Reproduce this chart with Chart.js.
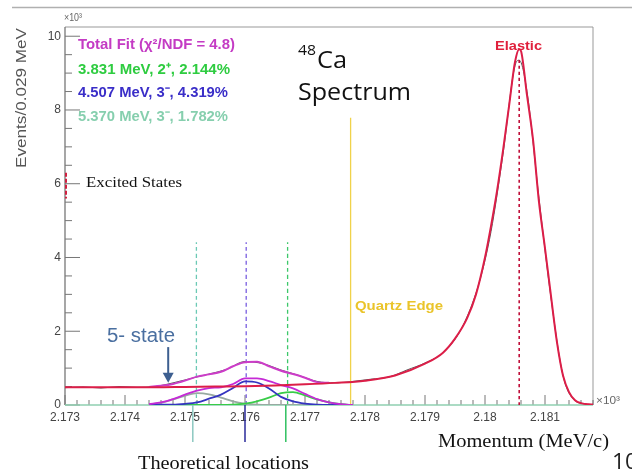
<!DOCTYPE html>
<html lang="en">
<head>
<meta charset="UTF-8">
<title>48Ca Spectrum</title>
<script src="https://cdn.jsdelivr.net/npm/chart.js@4.4.1/dist/chart.umd.min.js"></script>
<style>
  html, body { margin: 0; padding: 0; background: #fff; }
  #wrap { width: 632px; height: 474px; }
</style>
</head>
<body>
<div id="wrap"><canvas id="spectrum" width="632" height="474"></canvas></div>
<script>
// momentum in units of 10^3 MeV/c, events in units of 10^3
const xTicks = [2.173, 2.174, 2.175, 2.176, 2.177, 2.178, 2.179, 2.180, 2.181];
const yTicks = [0, 2, 4, 6, 8, 10];

// elastic peak + radiative tail fit (red)
const fitX = [2.173, 2.1735, 2.174, 2.1745, 2.175, 2.1755, 2.176, 2.1765, 2.177, 2.1775, 2.178, 2.1785, 2.179, 2.1793,
  2.1795, 2.1797, 2.17985, 2.180, 2.1801, 2.1802, 2.1803, 2.1804, 2.1805, 2.18057, 2.1806, 2.1807, 2.1808, 2.1809,
  2.181, 2.1811, 2.1812, 2.1813, 2.1814, 2.1815, 2.1816, 2.1818];
const fitY = [0.48, 0.48, 0.48, 0.48, 0.49, 0.5, 0.51, 0.53, 0.56, 0.6, 0.66, 0.8, 1.12, 1.42,
  1.8, 2.35, 3.0, 4.0, 4.85, 5.8, 6.9, 8.1, 9.3, 9.65, 9.6, 8.4, 7.2, 5.5,
  4.25, 2.95, 1.7, 0.8, 0.35, 0.13, 0.05, 0.01];

// total fit (magenta) in the excited-state region
const totalX = [2.1744, 2.1746, 2.1748, 2.175, 2.1752, 2.1754, 2.1756, 2.1758, 2.176, 2.1762, 2.1764, 2.1766,
  2.1768, 2.177, 2.1772, 2.1774];
const totalY = [0.49, 0.52, 0.57, 0.66, 0.77, 0.83, 0.9, 1.05, 1.16, 1.17, 1.05, 0.93,
  0.84, 0.74, 0.62, 0.6];

// excited states
const stateX = [2.1744, 2.1746, 2.1748, 2.175, 2.1752, 2.1754, 2.1756, 2.1758, 2.176, 2.1762, 2.1764, 2.1766,
  2.1768, 2.177, 2.1772, 2.1774, 2.1776, 2.1778];
const state5370 = [0.02, 0.06, 0.15, 0.25, 0.32, 0.29, 0.2, 0.1, 0.04, 0.01, 0, 0, 0, 0, 0, 0, 0, 0];
const state4507 = [0, 0.01, 0.01, 0.03, 0.07, 0.17, 0.28, 0.46, 0.64, 0.61, 0.45, 0.22, 0.1, 0.04, 0.01, 0, 0, 0];
const state3831 = [0, 0, 0, 0, 0, 0, 0, 0.01, 0.04, 0.1, 0.2, 0.32, 0.35, 0.26, 0.15, 0.07, 0.02, 0];
const stateSum = [0.02, 0.07, 0.16, 0.28, 0.39, 0.46, 0.48, 0.57, 0.72, 0.72, 0.65, 0.54, 0.45, 0.3, 0.16, 0.07, 0.02, 0];

// measured spectrum
const dataX = [2.173, 2.1733, 2.1736, 2.1739, 2.1742, 2.1745, 2.1748, 2.1751, 2.1754, 2.1757, 2.176, 2.1763, 2.1766,
  2.1769, 2.1772, 2.1775, 2.1778, 2.1781, 2.1784, 2.1787, 2.179, 2.1793, 2.1796, 2.1799, 2.1801, 2.1803, 2.1805,
  2.18057, 2.1807, 2.1809, 2.1811, 2.1813, 2.1815, 2.1817];
const dataY = [0.47, 0.49, 0.46, 0.5, 0.48, 0.5, 0.6, 0.72, 0.84, 0.97, 1.18, 1.12, 0.95,
  0.8, 0.64, 0.6, 0.64, 0.7, 0.76, 0.95, 1.14, 1.42, 2.05, 3.3, 4.7, 6.8, 9.2,
  9.35, 8.5, 5.6, 2.9, 0.8, 0.12, 0.02];

// theoretical locations (dashed in plot, solid below axis)
const theoryDashed = [2.17519, 2.17602, 2.17671];
const theorySolid = [2.17513, 2.176, 2.17668];
const theoryColors = ['#6cc9b5', '#7a5ee0', '#3cc86a'];
const theorySolidColors = ['#8cc8c0', '#2a2a9a', '#30c060'];
const quartzEdge = 2.17776;
const elasticPeak = 2.18057;

const pts = (xs, ys) => xs.map((x, i) => ({ x: x, y: ys[i] }));
const vline = (x, y0, y1) => [{ x: x, y: y0 }, { x: x, y: y1 }];

const curve = (data, color, width, order) => ({
  data: data, borderColor: color, borderWidth: width, pointRadius: 0,
  cubicInterpolationMode: 'monotone', order: order
});

const datasets = [
  curve(pts(dataX, dataY), '#555', 1, 20),
  curve(pts(fitX, fitY), '#dc1e48', 2, 1),
  curve(pts(totalX, totalY), '#cc3cc8', 2, 2),
  curve(pts(stateX, stateSum), '#c52ad6', 1.8, 3),
  curve(pts(stateX, state4507), '#3434c0', 1.8, 4),
  curve(pts(stateX, state3831), '#38cc48', 1.8, 5),
  curve(pts(stateX, state5370), '#98aaa2', 1.8, 6),
  Object.assign(curve(vline(quartzEdge, 0, 7.79), '#f0d24a', 1.3, 8), { cubicInterpolationMode: 'default' }),
  Object.assign(curve(vline(elasticPeak, 0, 9.38), '#c0103a', 1.6, 7), { borderDash: [3, 3] })
];
theoryDashed.forEach((x, i) => {
  datasets.push(Object.assign(curve(vline(x, 0, 4.41), theoryColors[i], 1.3, 9), { borderDash: [4, 3] }));
});
theorySolid.forEach((x, i) => {
  datasets.push(Object.assign(curve(vline(x, 0, -1.0), theorySolidColors[i], 1.5, 9), { clip: false }));
});

function fitText(ctx, txt, x, y, font, color, w, align) {
  ctx.save();
  ctx.font = font;
  const m = ctx.measureText(txt).width;
  ctx.translate(x, y);
  ctx.scale(w / m, 1);
  ctx.fillStyle = color;
  ctx.textBaseline = 'middle';
  ctx.textAlign = align || 'left';
  ctx.fillText(txt, 0, 0);
  ctx.restore();
}

const frame = {
  id: 'frame',
  beforeDatasetsDraw(chart) {
    const ctx = chart.ctx;
    const { left, right, top, bottom } = chart.chartArea;
    const xs = chart.scales.x, ys = chart.scales.y;
    ctx.save();
    ctx.lineWidth = 1;
    ctx.strokeStyle = '#999';
    ctx.beginPath();
    ctx.moveTo(left, top); ctx.lineTo(right, top); ctx.lineTo(right, bottom);
    ctx.stroke();
    ctx.strokeStyle = '#777';
    ctx.lineWidth = 1.3;
    ctx.beginPath();
    ctx.moveTo(left, top); ctx.lineTo(left, bottom);
    ctx.stroke();
    // inner ticks
    ctx.lineWidth = 1;
    ctx.strokeStyle = '#777';
    for (let k = 0; k <= 20; k++) {
      const py = ys.getPixelForValue(k * 0.5);
      ctx.beginPath();
      ctx.moveTo(left, py); ctx.lineTo(left + (k % 4 === 0 ? 15 : 7), py);
      ctx.stroke();
    }
    for (let k = 0; k <= 44; k++) {
      const px = xs.getPixelForValue(2.173 + k * 0.0002);
      ctx.beginPath();
      ctx.moveTo(px, bottom); ctx.lineTo(px, bottom - (k % 5 === 0 ? 10 : 5));
      ctx.stroke();
    }
    ctx.strokeStyle = '#8fcfb0';
    ctx.lineWidth = 1.5;
    ctx.beginPath();
    ctx.moveTo(left, bottom); ctx.lineTo(right, bottom);
    ctx.stroke();
    ctx.restore();
  },
  afterDraw(chart) {
    const ctx = chart.ctx;
    const xs = chart.scales.x, ys = chart.scales.y;
    const { left } = chart.chartArea;
    ctx.save();
    // slide rule at top
    ctx.strokeStyle = '#b0b0b0';
    ctx.lineWidth = 1.5;
    ctx.beginPath(); ctx.moveTo(12, 7.5); ctx.lineTo(632, 7.5); ctx.stroke();

    // red marker on the y axis
    ctx.strokeStyle = '#d02040';
    ctx.lineWidth = 2;
    ctx.setLineDash([4, 2]);
    ctx.beginPath();
    ctx.moveTo(left + 1, ys.getPixelForValue(6.3)); ctx.lineTo(left + 1, ys.getPixelForValue(5.6));
    ctx.stroke();
    ctx.setLineDash([]);

    fitText(ctx, '×10³', 64, 18, '11px "Liberation Sans"', '#666', 18);
    fitText(ctx, '×10³', 596, 401, '11px "Liberation Sans"', '#666', 24);

    ctx.save();
    ctx.translate(22, 98);
    ctx.rotate(-Math.PI / 2);
    fitText(ctx, 'Events/0.029 MeV', 0, 0, '14px "Liberation Sans"', '#555', 140, 'center');
    ctx.restore();

    const lf = 'bold 15px "Liberation Sans"';
    fitText(ctx, 'Total Fit (χ²/NDF = 4.8)', 78, 45, lf, '#c43bc4', 157);
    fitText(ctx, '3.831 MeV, 2⁺, 2.144%', 78, 70, lf, '#2ecc40', 152);
    fitText(ctx, '4.507 MeV, 3⁻, 4.319%', 78, 93, lf, '#3a2ec8', 150);
    fitText(ctx, '5.370 MeV, 3⁻, 1.782%', 78, 117, lf, '#86cfae', 150);

    fitText(ctx, '48', 298, 51, '15px "Open Sans"', '#111', 18);
    fitText(ctx, 'Ca', 317, 61, '24px "Open Sans"', '#111', 30);
    fitText(ctx, 'Spectrum', 298, 93, '24px "Open Sans"', '#111', 113);

    fitText(ctx, 'Excited States', 86, 183, '15px "Liberation Serif"', '#111', 96);
    fitText(ctx, 'Elastic', 495, 46, 'bold 13px "Liberation Sans"', '#e0203c', 47);
    fitText(ctx, 'Quartz Edge', 355, 306, 'bold 13px "Liberation Sans"', '#eac42a', 88);
    fitText(ctx, '5- state', 107, 336, '20px "Liberation Sans"', '#4a6fa0', 68);

    // arrow toward the 5- state
    const ax = xs.getPixelForValue(2.17472);
    const ay0 = ys.getPixelForValue(1.57), ay1 = ys.getPixelForValue(0.6);
    ctx.strokeStyle = '#3d5f90';
    ctx.fillStyle = '#3d5f90';
    ctx.lineWidth = 2;
    ctx.beginPath(); ctx.moveTo(ax, ay0); ctx.lineTo(ax, ay1 - 8); ctx.stroke();
    ctx.beginPath();
    ctx.moveTo(ax - 5.5, ay1 - 10); ctx.lineTo(ax + 5.5, ay1 - 10); ctx.lineTo(ax, ay1);
    ctx.closePath(); ctx.fill();

    fitText(ctx, 'Theoretical locations', 138, 464, '19px "Liberation Serif"', '#111', 171);
    fitText(ctx, 'Momentum (MeV/c)', 438, 442, '19px "Liberation Serif"', '#111', 171);
    fitText(ctx, '10', 612, 463, '22px "Open Sans"', '#222', 26);
    ctx.restore();
  }
};

new Chart(document.getElementById('spectrum'), {
  type: 'line',
  data: { datasets: datasets },
  options: {
    responsive: false,
    animation: false,
    layout: { padding: { top: 27, right: 39, left: 0, bottom: 0 } },
    plugins: { legend: { display: false }, tooltip: { enabled: false } },
    scales: {
      x: {
        type: 'linear', min: 2.173, max: 2.1818,
        afterBuildTicks: (s) => { s.ticks = xTicks.map((v) => ({ value: v })); },
        afterFit: (s) => { s.height = 69; },
        grid: { display: false, drawTicks: false },
        border: { display: false },
        ticks: {
          padding: 5, maxRotation: 0, autoSkip: false, color: '#444',
          font: { family: 'Liberation Sans', size: 12 },
          callback: (v) => String(Number(v.toFixed(3)))
        }
      },
      y: {
        min: 0, max: 10.25,
        afterBuildTicks: (s) => { s.ticks = yTicks.map((v) => ({ value: v })); },
        afterFit: (s) => { s.width = 65; },
        grid: { display: false, drawTicks: false },
        border: { display: false },
        ticks: { padding: 4, color: '#444', font: { family: 'Liberation Sans', size: 12 } }
      }
    }
  },
  plugins: [frame]
});
</script>
</body>
</html>
